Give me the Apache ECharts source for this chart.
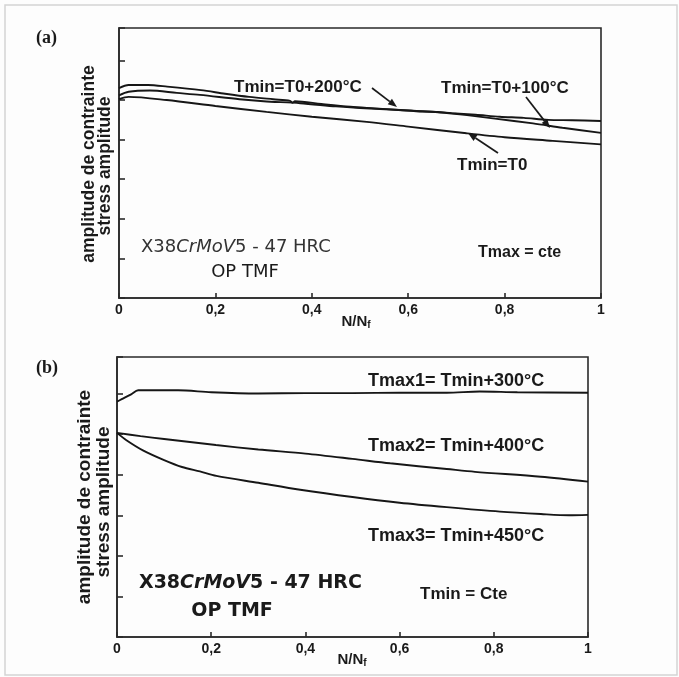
<!DOCTYPE html>
<html>
<head>
<meta charset="utf-8">
<script src="https://cdn.jsdelivr.net/npm/echarts@6/dist/echarts.min.js"></script>
<style>html,body{margin:0;padding:0;background:#fff;}#c{width:679px;height:677px;}</style>
</head>
<body>
<div id="c"></div>
<script>
// ---- Panel (a) data: stress amplitude vs N/Nf (arbitrary units) ----
const xTicks = ['0', '0,2', '0,4', '0,6', '0,8', '1'];
const a200X = [0, 0.02, 0.06, 0.1, 0.17, 0.22, 0.27, 0.32, 0.355, 0.36, 0.365, 0.42, 0.48, 0.53, 0.58, 0.63, 0.66, 0.69, 0.74, 0.79, 0.84, 0.89, 0.94, 1.0];
const a200Y = [5.3, 5.38, 5.38, 5.34, 5.25, 5.16, 5.08, 5.02, 4.98, 4.93, 4.97, 4.9, 4.83, 4.79, 4.75, 4.71, 4.7, 4.67, 4.63, 4.58, 4.55, 4.5, 4.49, 4.47];
const a100X = [0, 0.02, 0.064, 0.12, 0.168, 0.25, 0.3, 0.376, 0.45, 0.5, 0.583, 0.64, 0.69, 0.722, 0.78, 0.859, 0.92, 1.0];
const a100Y = [5.12, 5.21, 5.24, 5.18, 5.13, 5.02, 4.97, 4.92, 4.84, 4.8, 4.75, 4.71, 4.66, 4.62, 4.53, 4.41, 4.3, 4.17];
const a0X = [0, 0.02, 0.099, 0.2, 0.306, 0.4, 0.514, 0.6, 0.721, 0.8, 0.9, 1.0];
const a0Y = [5.02, 5.08, 5.0, 4.85, 4.7, 4.58, 4.45, 4.33, 4.16, 4.06, 3.97, 3.88];

// ---- Panel (b) data ----
const b300X = [0, 0.01, 0.03, 0.045, 0.13, 0.2, 0.3, 0.4, 0.5, 0.6, 0.7, 0.77, 0.85, 1.0];
const b300Y = [5.8, 5.86, 5.98, 6.08, 6.08, 6.03, 6.0, 6.01, 6.01, 6.02, 6.02, 6.05, 6.03, 6.02];
const b400X = [0, 0.05, 0.1, 0.21, 0.3, 0.4, 0.5, 0.58, 0.7, 0.76, 0.9, 1.0];
const b400Y = [5.03, 4.95, 4.88, 4.73, 4.62, 4.52, 4.39, 4.28, 4.14, 4.07, 3.95, 3.83];
const b450X = [0, 0.02, 0.055, 0.1, 0.138, 0.176, 0.211, 0.3, 0.389, 0.5, 0.6, 0.7, 0.813, 0.9, 0.96, 1.0];
const b450Y = [5.03, 4.85, 4.6, 4.36, 4.19, 4.08, 3.97, 3.8, 3.63, 3.45, 3.31, 3.2, 3.09, 3.03, 3.0, 3.01];

function zip(xs, ys) { return xs.map((x, i) => [x, ys[i]]); }

const axisColor = '#2a2a2a';
const lineColor = '#161616';

function xAxisCfg(gi) {
  return {
    type: 'value', gridIndex: gi, min: 0, max: 1, interval: 0.2,
    axisLine: { show: true, lineStyle: { color: axisColor, width: 1.6 } },
    axisTick: { show: true, inside: true, length: 5, lineStyle: { color: axisColor, width: 1.6 } },
    axisLabel: {
      show: true, margin: 5, color: '#1a1a1a', fontFamily: 'Liberation Sans', fontWeight: 'bold', fontSize: 14,
      formatter: v => xTicks[Math.round(v / 0.2)]
    },
    splitLine: { show: false }
  };
}
function yAxisCfg(gi, max) {
  return {
    type: 'value', gridIndex: gi, min: 0, max: max, interval: 1,
    axisLine: { show: true, lineStyle: { color: axisColor, width: 1.6 } },
    axisTick: { show: true, inside: true, length: 6, lineStyle: { color: axisColor, width: 1.6 } },
    axisLabel: { show: false },
    splitLine: { show: false }
  };
}
function lineSeries(gi, name, xs, ys) {
  return {
    type: 'line', name: name, xAxisIndex: gi, yAxisIndex: gi,
    data: zip(xs, ys), showSymbol: false, symbol: 'none', smooth: 0.3,
    lineStyle: { color: lineColor, width: 1.9 }, silent: true, animation: false
  };
}

function txt(x, y, text, font, align, extra) {
  return Object.assign({
    type: 'text', x: x, y: y, silent: true,
    style: { text: text, font: font, fill: '#1a1a1a', textAlign: align || 'left', textVerticalAlign: 'middle' }
  }, extra || {});
}
function arrow(x1, y1, x2, y2) {
  const ang = Math.atan2(y2 - y1, x2 - x1);
  const L = 9, W = 3.5;
  const bx = x2 - L * Math.cos(ang), by = y2 - L * Math.sin(ang);
  const px = -Math.sin(ang) * W, py = Math.cos(ang) * W;
  return [
    { type: 'line', silent: true, shape: { x1: x1, y1: y1, x2: bx, y2: by }, style: { stroke: '#1a1a1a', lineWidth: 1.7 } },
    { type: 'polygon', silent: true, shape: { points: [[x2, y2], [bx + px, by + py], [bx - px, by - py]] }, style: { fill: '#1a1a1a' } }
  ];
}

const B = 'bold ';
const sub = { s: { fontSize: 10, fontWeight: 'bold', fontFamily: 'Liberation Sans', verticalAlign: 'bottom', padding: [7, 0, 0, 0] } };
const graphics = [
  { type: 'rect', silent: true, shape: { x: 5, y: 5, width: 672, height: 670 }, style: { fill: 'none', stroke: '#d4d4d4', lineWidth: 1.5 } },
  txt(36, 38, '(a)', 'bold 18px "Liberation Serif"', 'left'),
  txt(36, 368, '(b)', 'bold 18px "Liberation Serif"', 'left'),
  // y-axis titles
  txt(89, 164, 'amplitude de contrainte', B + '17.5px "Liberation Sans"', 'center', { rotation: Math.PI / 2 }),
  txt(105, 166, 'stress amplitude', B + '17.5px "Liberation Sans"', 'center', { rotation: Math.PI / 2 }),
  txt(85, 497, 'amplitude de contrainte', B + '19px "Liberation Sans"', 'center', { rotation: Math.PI / 2 }),
  txt(104, 502, 'stress amplitude', B + '19px "Liberation Sans"', 'center', { rotation: Math.PI / 2 }),
  // x-axis titles
  { type: 'text', x: 356, y: 322, silent: true, style: { text: 'N/N{s|f}', font: B + '15px "Liberation Sans"', fill: '#1a1a1a', textAlign: 'center', textVerticalAlign: 'middle', rich: sub } },
  { type: 'text', x: 352, y: 660, silent: true, style: { text: 'N/N{s|f}', font: B + '15px "Liberation Sans"', fill: '#1a1a1a', textAlign: 'center', textVerticalAlign: 'middle', rich: sub } },
  // panel (a) annotations
  txt(234, 87, 'Tmin=T0+200°C', B + '17px "Liberation Sans"', 'left'),
  txt(441, 88, 'Tmin=T0+100°C', B + '17px "Liberation Sans"', 'left'),
  txt(457, 165, 'Tmin=T0', B + '17px "Liberation Sans"', 'left'),
  { type: 'text', x: 141, y: 247, silent: true, style: { text: 'X38{i|CrMoV}5 - 47 HRC', font: '18px "DejaVu Sans"', fill: '#333', textAlign: 'left', textVerticalAlign: 'middle',
      rich: { i: { fontStyle: 'italic', fontSize: 18, fontFamily: 'DejaVu Sans' } } } },
  txt(245, 272, 'OP TMF', '18px "DejaVu Sans"', 'center', {}),
  txt(478, 253, 'Tmax = cte', B + '16px "Liberation Sans"', 'left'),
  // panel (b) annotations
  txt(368, 381, 'Tmax1= Tmin+300°C', B + '18px "Liberation Sans"', 'left'),
  txt(368, 446, 'Tmax2= Tmin+400°C', B + '18px "Liberation Sans"', 'left'),
  txt(368, 536, 'Tmax3= Tmin+450°C', B + '18px "Liberation Sans"', 'left'),
  { type: 'text', x: 139, y: 583, silent: true, style: { text: 'X38{i|CrMoV}5 - 47 HRC', font: 'bold 19px "DejaVu Sans"', fill: '#1a1a1a', textAlign: 'left', textVerticalAlign: 'middle',
      rich: { i: { fontStyle: 'italic', fontWeight: 'bold', fontSize: 19, fontFamily: 'DejaVu Sans' } } } },
  txt(232, 611, 'OP TMF', 'bold 19px "DejaVu Sans"', 'center'),
  txt(420, 594, 'Tmin = Cte', B + '17px "Liberation Sans"', 'left')
].concat(arrow(372, 88, 397, 107), arrow(526, 97, 550, 128), arrow(498, 153, 468, 133));

const option = {
  backgroundColor: '#fdfdfd',
  animation: false,
  grid: [
    { left: 119, top: 28, width: 482, height: 270, show: true, borderColor: axisColor, borderWidth: 1.6, backgroundColor: 'transparent' },
    { left: 117, top: 357, width: 471, height: 280, show: true, borderColor: axisColor, borderWidth: 1.6, backgroundColor: 'transparent' }
  ],
  xAxis: [xAxisCfg(0), xAxisCfg(1)],
  yAxis: [yAxisCfg(0, 6.82), yAxisCfg(1, 6.9)],
  series: [
    lineSeries(0, 'Tmin=T0+200°C', a200X, a200Y),
    lineSeries(0, 'Tmin=T0+100°C', a100X, a100Y),
    lineSeries(0, 'Tmin=T0', a0X, a0Y),
    lineSeries(1, 'Tmax1= Tmin+300°C', b300X, b300Y),
    lineSeries(1, 'Tmax2= Tmin+400°C', b400X, b400Y),
    lineSeries(1, 'Tmax3= Tmin+450°C', b450X, b450Y)
  ],
  graphic: graphics
};
const chart = echarts.init(document.getElementById('c'), null, { renderer: 'canvas' });
chart.setOption(option);
</script>
</body>
</html>
